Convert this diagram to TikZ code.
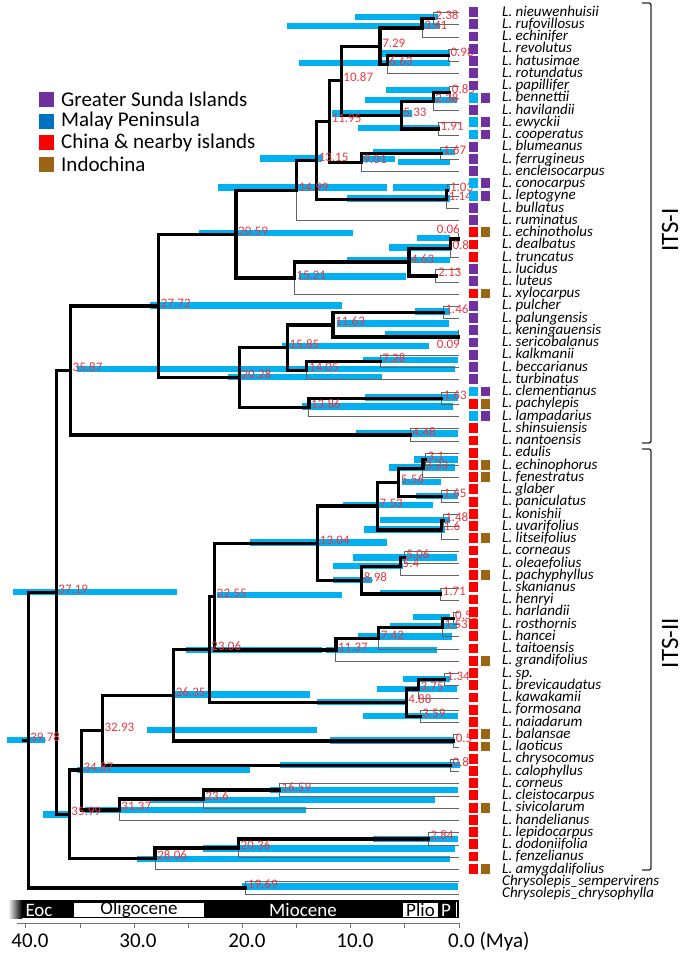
\documentclass[tikz,border=0pt]{standalone}
\usepackage{fontspec}
\setmainfont{Carlito}
\pgfdeclarelayer{bars}
\pgfdeclarelayer{thin}
\pgfdeclarelayer{front}
\pgfsetlayers{bars,thin,main,front}
\definecolor{cP}{RGB}{112,48,160}
\definecolor{cC}{RGB}{0,176,240}
\definecolor{cM}{RGB}{0,112,192}
\definecolor{cR}{RGB}{255,0,0}
\definecolor{cB}{RGB}{156,101,22}
\definecolor{hpdc}{RGB}{0,176,240}
\definecolor{lblc}{RGB}{232,56,64}
\definecolor{tgray}{RGB}{100,100,100}
\tikzset{
 thk/.style={line width=3.3pt, black, line join=miter, line cap=rect},
 thn/.style={line width=0.9pt, tgray},
 agelbl/.style={text=lblc, font=\fontsize{13}{13}\selectfont, anchor=west, inner sep=0pt, text height=7pt, text depth=0pt},
 spname/.style={font=\fontsize{15}{15}\selectfont\itshape, anchor=west, inner sep=0pt, text height=7.5pt, text depth=0.5pt},
 epoch/.style={font=\fontsize{19}{19}\selectfont, inner sep=0pt},
 axlbl/.style={font=\fontsize{21}{21}\selectfont, inner sep=0pt},
 leg/.style={font=\fontsize{21}{21}\selectfont, anchor=west, inner sep=0pt},
 itslbl/.style={rotate=90, font=\fontsize{25}{25}\selectfont, inner sep=0pt},
}
\newcommand{\tn}[3]{\coordinate (#1) at ({459-10.83*#2},#3);\begin{pgfonlayer}{front}\node[agelbl] at ([xshift=2pt,yshift=2.5pt]#1) {#2};\end{pgfonlayer}}
\newcommand{\ek}[2]{\draw[thk] (#1) |- (#2);}
\newcommand{\en}[2]{\begin{pgfonlayer}{thin}\draw[thn] (#1) |- (#2);\end{pgfonlayer}}
\newcommand{\hb}[3]{\begin{pgfonlayer}{bars}\fill[hpdc] (#1,#3-3.2) rectangle (#2,#3+3.2);\end{pgfonlayer}}
\begin{document}
\begin{tikzpicture}[x=1pt,y=-1pt]
\useasboundingbox (0,0) rectangle (685,954);
% tips
\foreach \i in {1,...,73} {\coordinate (t\i) at (459,{12.7+12.24*(\i-1)});}
% ---- ITS-I nodes
\tn{n2381}{2.38}{18.8}
\tn{n341}{3.41}{28}
\tn{n098}{0.98}{55.5}
\tn{n663}{6.63}{64.7}
\tn{n729}{7.29}{46.4}
\tn{n085}{0.85}{92.3}
\tn{n2382}{2.38}{101.4}
\tn{n191}{1.91}{129}
\tn{n533}{5.33}{115.2}
\tn{n1087}{10.87}{80.8}
\tn{n167}{1.67}{153.5}
\tn{n901}{9.01}{162.6}
\tn{n1195}{11.95}{121.7}
\tn{n103}{1.03}{190.2}
\tn{n114}{1.14}{199.4}
\tn{n1315}{13.15}{160.5}
\tn{n1499}{14.99}{190.7}
\coordinate (n006) at ({459-10.83*0.06},239.1);
\begin{pgfonlayer}{front}\node[agelbl,anchor=east] at (460,230) {0.06};\end{pgfonlayer}
\tn{n080}{0.8}{248.3}
\tn{n213}{2.13}{275.9}
\tn{n463}{4.63}{262.1}
\tn{n1521}{15.21}{278.1}
\tn{n2059}{20.59}{234.4}
\tn{n146}{1.46}{312.6}
\coordinate (n009) at ({459-10.83*0.09},337.1);
\begin{pgfonlayer}{front}\node[agelbl,anchor=east] at (460,345) {0.09};\end{pgfonlayer}
\tn{n1163}{11.63}{324.9}
\tn{n728}{7.28}{361.5}
\tn{n1405}{14.05}{370.7}
\tn{n1585}{15.85}{347.8}
\tn{n163}{1.63}{398.3}
\tn{n1386}{13.86}{407.5}
\tn{n2028}{20.28}{377.6}
\tn{n2772}{27.72}{306}
\tn{n448}{4.48}{435}
\tn{n3587}{35.87}{370.5}
% ---- ITS-II nodes
\tn{n310}{3.1}{459.5}
\tn{n333}{3.33}{468.6}
\tn{n165}{1.65}{496.2}
\tn{n556}{5.56}{482.4}
\tn{n148}{1.48}{520.7}
\tn{n160}{1.6}{529.9}
\tn{n753}{7.53}{506.1}
\tn{n506}{5.06}{557.4}
\tn{n540}{5.4}{566.6}
\tn{n171}{1.71}{594.1}
\tn{n898}{8.98}{580.3}
\tn{n1304}{13.04}{543.2}
\tn{n055}{0.55}{618.6}
\tn{n153}{1.53}{627.8}
\tn{n742}{7.42}{638.5}
\tn{n1137}{11.37}{650}
\tn{n2255}{22.55}{596.6}
\tn{n134}{1.34}{679.8}
\tn{n375}{3.75}{689}
\tn{n359}{3.59}{716.5}
\tn{n488}{4.88}{702.7}
\tn{n2306}{23.06}{649.7}
\tn{n050}{0.5}{741}
\tn{n2635}{26.35}{695.3}
\tn{n080b}{0.8}{765.5}
\tn{n3293}{32.93}{730.4}
\tn{n1659}{16.59}{790}
\tn{n236}{23.6}{799.1}
\tn{n3137}{31.37}{809.9}
\tn{n3487}{34.87}{770.1}
\tn{n284}{2.84}{838.9}
\tn{n2036}{20.36}{848.1}
\tn{n2806}{28.06}{858.8}
\tn{n3599}{35.99}{814.5}
\tn{n3719}{37.19}{592.5}
\tn{n1969}{19.69}{887.9}
\tn{root}{39.78}{740.2}
% ---- HPD bars
\hb{355}{438}{17} \hb{287}{440}{26} \hb{382}{450}{53.5} \hb{299}{450}{63}
\hb{386}{450}{90} \hb{365}{457}{100} \hb{332}{412}{113.5} \hb{358}{440}{128}
\hb{373}{455}{152} \hb{260}{322}{158.5} \hb{363}{395}{159} \hb{398}{450}{162}
\hb{218}{387}{187.5} \hb{393}{450}{187.5} \hb{347}{450}{198.5}
\hb{199}{353}{233} \hb{417}{450}{238} \hb{389}{450}{247.5} \hb{347}{450}{260}
\hb{299}{406}{276.5} \hb{150}{342}{305.5} \hb{415}{450}{311.5} \hb{337}{449}{323.5}
\hb{385}{459}{334.5} \hb{282}{429}{346} \hb{363}{458}{360} \hb{77}{455}{369}
\hb{228}{382}{377} \hb{365}{458}{397.5} \hb{302}{453}{406.5} \hb{356}{458}{433.5}
\hb{414}{458}{459.5} \hb{389}{455}{467.5} \hb{402}{441}{482} \hb{416}{458}{496}
\hb{343}{433}{505} \hb{380}{450}{520} \hb{364}{445}{529.5} \hb{250}{387}{542.5}
\hb{353}{457}{557.5} \hb{333}{403}{566} \hb{333}{372}{580} \hb{380}{442}{593}
\hb{217}{342}{595} \hb{13}{177}{592} \hb{413}{450}{617} \hb{390}{457}{626}
\hb{358}{452}{636.5} \hb{186}{322}{650} \hb{326}{437}{650} \hb{403}{450}{679}
\hb{377}{457}{689} \hb{173}{310}{694.5} \hb{317}{408}{702} \hb{363}{458}{716}
\hb{147}{317}{730} \hb{7}{45}{740} \hb{330}{453}{740.5} \hb{280}{460}{765}
\hb{77}{250}{770} \hb{270}{458}{790} \hb{150}{435}{800} \hb{85}{306}{810}
\hb{43}{70}{814.5} \hb{373}{458}{839} \hb{203}{455}{848.5} \hb{137}{450}{859}
\hb{242}{458}{886.5}
% ---- branches
\draw[thk] (root) -- ++(-5,0);
\ek{root}{n3719} \ek{root}{n1969} \en{n1969}{t72} \en{n1969}{t73}
\ek{n3719}{n3587} \ek{n3719}{n3599}
\ek{n3587}{n2772} \ek{n3587}{n448} \en{n448}{t35} \en{n448}{t36}
\ek{n2772}{n2059} \ek{n2772}{n2028}
\ek{n2059}{n1499} \ek{n2059}{n1521}
\ek{n1499}{n1315} \en{n1499}{t18}
\ek{n1315}{n1195} \ek{n1315}{n114}
\ek{n114}{n103} \en{n114}{t17} \en{n103}{t15} \en{n103}{t16}
\ek{n1195}{n1087} \ek{n1195}{n901}
\ek{n901}{n167} \en{n901}{t14} \en{n167}{t12} \en{n167}{t13}
\ek{n1087}{n729} \ek{n1087}{n533}
\ek{n729}{n341} \ek{n729}{n663}
\ek{n341}{n2381} \en{n341}{t3} \en{n2381}{t1} \en{n2381}{t2}
\ek{n663}{n098} \en{n663}{t6} \en{n098}{t4} \en{n098}{t5}
\ek{n533}{n2382} \ek{n533}{n191}
\ek{n2382}{n085} \en{n2382}{t9} \en{n085}{t7} \en{n085}{t8}
\en{n191}{t10} \en{n191}{t11}
\ek{n1521}{n463} \en{n1521}{t24}
\ek{n463}{n080} \ek{n463}{n213}
\ek{n080}{n006} \en{n080}{t21} \en{n006}{t19} \en{n006}{t20}
\en{n213}{t22} \en{n213}{t23}
\ek{n2028}{n1585} \ek{n2028}{n1386}
\ek{n1585}{n1163} \ek{n1585}{n1405}
\ek{n1163}{n146} \ek{n1163}{n009}
\en{n146}{t25} \en{n146}{t26} \en{n009}{t27} \en{n009}{t28}
\ek{n1405}{n728} \en{n1405}{t31} \en{n728}{t29} \en{n728}{t30}
\ek{n1386}{n163} \en{n1386}{t34} \en{n163}{t32} \en{n163}{t33}
\ek{n3599}{n3487} \ek{n3599}{n2806}
\ek{n3487}{n3293} \ek{n3487}{n3137}
\ek{n3293}{n2635} \ek{n3293}{n080b} \en{n080b}{t62} \en{n080b}{t63}
\ek{n2635}{n2306} \ek{n2635}{n050} \en{n050}{t60} \en{n050}{t61}
\ek{n2306}{n2255} \ek{n2306}{n488}
\ek{n2255}{n1304} \ek{n2255}{n1137}
\ek{n1304}{n753} \ek{n1304}{n898}
\ek{n753}{n556} \ek{n753}{n160}
\ek{n556}{n333} \ek{n556}{n165}
\ek{n333}{n310} \en{n333}{t39} \en{n310}{t37} \en{n310}{t38}
\en{n165}{t40} \en{n165}{t41}
\ek{n160}{n148} \en{n160}{t44} \en{n148}{t42} \en{n148}{t43}
\ek{n898}{n540} \ek{n898}{n171}
\ek{n540}{n506} \en{n540}{t47} \en{n506}{t45} \en{n506}{t46}
\en{n171}{t48} \en{n171}{t49}
\ek{n1137}{n742} \en{n1137}{t54}
\ek{n742}{n153} \en{n742}{t53}
\ek{n153}{n055} \en{n153}{t52} \en{n055}{t50} \en{n055}{t51}
\ek{n488}{n375} \ek{n488}{n359}
\ek{n375}{n134} \en{n375}{t57} \en{n134}{t55} \en{n134}{t56}
\en{n359}{t58} \en{n359}{t59}
\ek{n3137}{n236} \en{n3137}{t67}
\ek{n236}{n1659} \en{n236}{t66} \en{n1659}{t64} \en{n1659}{t65}
\ek{n2806}{n2036} \en{n2806}{t71}
\ek{n2036}{n284} \en{n2036}{t70} \en{n284}{t68} \en{n284}{t69}
% ---- region squares
\begin{pgfonlayer}{front}
\foreach \i/\c in {1/cP,2/cP,3/cP,4/cP,5/cP,6/cP,7/cP,8/cC,9/cP,10/cC,11/cC,12/cP,13/cP,14/cP,15/cC,16/cC,17/cP,18/cP,19/cR,20/cR,21/cR,22/cP,23/cP,24/cR,25/cP,26/cP,27/cP,28/cP,29/cP,30/cP,31/cP,32/cC,33/cR,34/cC,35/cR,36/cR,37/cR,38/cR,39/cR,40/cR,41/cR,42/cR,43/cR,44/cR,45/cR,46/cR,47/cR,48/cR,49/cR,50/cR,51/cR,52/cR,53/cR,54/cR,55/cR,56/cR,57/cR,58/cR,59/cR,60/cR,61/cR,62/cR,63/cR,64/cR,65/cR,66/cR,67/cR,68/cR,69/cR,70/cR,71/cR}
 {\fill[\c] (469,{12.7+12.24*(\i-1)-5.6}) rectangle (478,{12.7+12.24*(\i-1)+4.2});}
\foreach \i/\c in {8/cP,10/cP,11/cP,15/cP,16/cP,19/cB,24/cB,32/cP,33/cB,34/cP,38/cB,39/cB,44/cB,47/cB,54/cB,60/cB,61/cB,66/cB,71/cB}
 {\fill[\c] (481,{12.7+12.24*(\i-1)-5.6}) rectangle (490,{12.7+12.24*(\i-1)+4.2});}
\end{pgfonlayer}
% ---- species names
\foreach \i/\nm in {1/nieuwenhuisii,2/rufovillosus,3/echinifer,4/revolutus,5/hatusimae,6/rotundatus,7/papillifer,8/bennettii,9/havilandii,10/ewyckii,11/cooperatus,12/blumeanus,13/ferrugineus,14/encleisocarpus,15/conocarpus,16/leptogyne,17/bullatus,18/ruminatus,19/echinotholus,20/dealbatus,21/truncatus,22/lucidus,23/luteus,24/xylocarpus,25/pulcher,26/palungensis,27/keningauensis,28/sericobalanus,29/kalkmanii,30/beccarianus,31/turbinatus,32/clementianus,33/pachylepis,34/lampadarius,35/shinsuiensis,36/nantoensis,37/edulis,38/echinophorus,39/fenestratus,40/glaber,41/paniculatus,42/konishii,43/uvarifolius,44/litseifolius,45/corneaus,46/oleaefolius,47/pachyphyllus,48/skanianus,49/henryi,50/harlandii,51/rosthornis,52/hancei,53/taitoensis,54/grandifolius,55/sp.,56/brevicaudatus,57/kawakamii,58/formosana,59/naiadarum,60/balansae,61/laoticus,62/chrysocomus,63/calophyllus,64/corneus,65/cleistocarpus,66/sivicolarum,67/handelianus,68/lepidocarpus,69/dodoniifolia,70/fenzelianus,71/amygdalifolius}
 {\node[spname] (s\i) at (502,{12.7+12.24*(\i-1)}) {L. \nm};}
\node[spname] (s72) at (502,881.8) {Chrysolepis\_sempervirens};
\node[spname] (s73) at (502,894) {Chrysolepis\_chrysophylla};
% ---- brackets
\draw[line width=1.3pt, black!85, rounded corners=2pt] (642,3) -- (651,3) -- (651,443) -- (642,443);
\draw[line width=1.3pt, black!85, rounded corners=2pt] (642,449) -- (651,449) -- (651,870) -- (642,870);
\node[itslbl] (its1) at (670,230) {ITS-I};
\node[itslbl] (its2) at (670,643) {ITS-II};
% ---- legend
\foreach \yy/\c/\t in {99.5/cP/Greater Sunda Islands,121/cM/Malay Peninsula,142.5/cR/China \& nearby islands,164/cB/Indochina}
 {\fill[\c] (39,\yy-7.5) rectangle (54,\yy+7.5); \node[leg] at (61,\yy) {\t};}
% ---- time scale
\shade[left color=white,right color=black] (8,900) rectangle (22,918);
\fill[black] (21.5,900) rectangle (459,918);
\fill[white] (74,902.5) rectangle (204,917);
\fill[white] (403,902.5) rectangle (438,917);
\draw[white,line width=0.8pt] (456.5,902) -- (456.5,917);
\node[epoch,text=white] (eoc) at (39,910) {Eoc};
\node[epoch] (oli) at (139,910) {Oligocene};
\node[epoch,text=white] (mio) at (303,910) {Miocene};
\node[epoch] (pli) at (420.5,910) {Plio};
\node[epoch,text=white] (ple) at (446,910) {P};
\draw[black!55,line width=0.8pt] (17,923) -- (459,923);
\foreach \k in {0,...,8} {\draw[black!55,line width=0.8pt] ({459-54.15*\k},923) -- ++(0,5);}
\node[axlbl] (a40) at (30,941) {40.0};
\node[axlbl] (a30) at (138,941) {30.0};
\node[axlbl] (a20) at (247,941) {20.0};
\node[axlbl] (a10) at (355,941) {10.0};
\node[axlbl,anchor=west] (a0) at (448,941) {0.0 (Mya)};
\end{tikzpicture}
\end{document}
